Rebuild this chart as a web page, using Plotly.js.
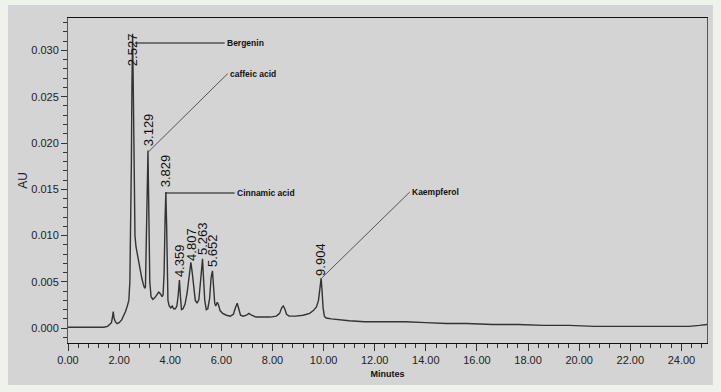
<!DOCTYPE html>
<html>
<head>
<meta charset="utf-8">
<script src="https://cdn.plot.ly/plotly-3.0.1.min.js"></script>
<style>html,body{margin:0;padding:0;background:#eef2ea;}#chart{width:721px;height:392px;}</style>
</head>
<body>
<div id="chart"></div>
<script>
// Chromatogram trace (retention time in minutes, absorbance in AU)
const timeMin = [0.00,0.50,1.00,1.40,1.55,1.65,1.70,1.74,1.77,1.80,1.85,1.92,2.00,2.10,2.18,2.25,2.32,2.38,2.42,2.45,2.48,2.50,2.527,2.55,2.57,2.59,2.62,2.66,2.72,2.80,2.88,2.95,3.00,3.03,3.06,3.09,3.129,3.15,3.17,3.20,3.25,3.32,3.40,3.48,3.55,3.62,3.68,3.72,3.76,3.80,3.829,3.86,3.88,3.91,3.96,4.02,4.08,4.13,4.20,4.26,4.31,4.359,4.40,4.44,4.50,4.58,4.66,4.73,4.807,4.86,4.92,4.98,5.05,5.12,5.19,5.23,5.263,5.30,5.35,5.41,5.47,5.54,5.60,5.652,5.69,5.74,5.78,5.84,5.89,5.95,6.05,6.20,6.35,6.47,6.55,6.62,6.68,6.75,6.85,6.98,7.08,7.18,7.35,7.60,7.90,8.15,8.28,8.36,8.42,8.48,8.55,8.65,8.90,9.20,9.45,9.60,9.72,9.80,9.86,9.904,9.94,9.98,10.03,10.10,10.30,10.60,11.00,11.60,12.40,13.20,14.00,14.80,15.60,16.60,17.60,18.60,19.60,20.60,21.60,22.60,23.60,24.30,24.70,25.00];
const absAU = [0.0001,0.0001,0.0001,0.0001,0.0002,0.0004,0.0006,0.0012,0.0018,0.0011,0.0007,0.0005,0.0006,0.0009,0.0013,0.0018,0.0024,0.0030,0.0050,0.0095,0.0180,0.0260,0.0318,0.0270,0.0190,0.0125,0.0100,0.0088,0.0078,0.0066,0.0055,0.0047,0.0043,0.0045,0.0080,0.0150,0.0192,0.0150,0.0090,0.0050,0.0034,0.0031,0.0033,0.0037,0.0039,0.0037,0.0034,0.0036,0.0060,0.0120,0.0147,0.0110,0.0060,0.0030,0.0024,0.0022,0.0024,0.0021,0.0021,0.0024,0.0035,0.0052,0.0034,0.0020,0.0021,0.0026,0.0038,0.0056,0.0071,0.0060,0.0042,0.0030,0.0027,0.0031,0.0052,0.0072,0.0075,0.0055,0.0030,0.0020,0.0021,0.0032,0.0055,0.0062,0.0045,0.0027,0.0024,0.0028,0.0025,0.0019,0.0016,0.0014,0.0013,0.0015,0.0022,0.0027,0.0021,0.0014,0.0013,0.0014,0.0016,0.0014,0.0012,0.0012,0.0012,0.0013,0.0016,0.0022,0.0024,0.0021,0.0015,0.0013,0.0013,0.0014,0.0016,0.0019,0.0023,0.0030,0.0042,0.0054,0.0040,0.0022,0.0013,0.0011,0.0010,0.0009,0.0008,0.0007,0.0007,0.0007,0.0006,0.0005,0.0005,0.0004,0.0004,0.0003,0.0003,0.0002,0.0002,0.0002,0.0002,0.0002,0.0003,0.0004];

// Peak retention-time labels
const peakTimes = [2.527,3.129,3.829,4.359,4.807,5.263,5.652,9.904];
const peakLabels = ["2.527","3.129","3.829","4.359","4.807","5.263","5.652","9.904"];
const peakLabelY = [0.0282,0.0196,0.01515,0.0054,0.0072,0.0078,0.0065,0.0055];

// Compound names with leader lines
const compounds = ["Bergenin","caffeic acid","Cinnamic acid","Kaempferol"];
const leaderX0 = [2.61,3.13,3.83,9.92];
const leaderY0 = [0.0308,0.0190,0.0146,0.0054];
const leaderX1 = [6.13,6.25,6.52,13.37];
const leaderY1 = [0.0308,0.0275,0.0146,0.0147];
const leaderColor = ["#111","#555","#111","#555"];

const shapes = [{
  type:'rect', xref:'paper', yref:'paper', layer:'below',
  x0:-0.0939, x1:1.0094, y0:-0.1292, y1:1.04,
  fillcolor:'#d4d4d4', line:{width:0}
}];
const annotations = [];
for (let i=0;i<peakTimes.length;i++){
  annotations.push({x:peakTimes[i], y:peakLabelY[i], xref:'x', yref:'y', text:peakLabels[i],
    showarrow:false, textangle:-90, xanchor:'center', yanchor:'bottom', borderpad:0,
    font:{family:'Liberation Sans, Arial, sans-serif', size:13, color:'#111'}});
}
for (let i=0;i<compounds.length;i++){
  shapes.push({type:'line', xref:'x', yref:'y', x0:leaderX0[i], y0:leaderY0[i], x1:leaderX1[i], y1:leaderY1[i],
    line:{color:leaderColor[i], width:1}});
  annotations.push({x:leaderX1[i], y:leaderY1[i], xref:'x', yref:'y', text:'<b>'+compounds[i]+'</b>',
    showarrow:false, xanchor:'left', yanchor:'middle', xshift:1, borderpad:0,
    font:{family:'Liberation Sans, Arial, sans-serif', size:8.5, color:'#111'}});
}

const trace = {x:timeMin, y:absAU, type:'scatter', mode:'lines',
  line:{color:'#333333', width:1.4}, hoverinfo:'skip'};

const layout = {
  width:721, height:392,
  margin:{l:68, r:14, t:18, b:49},
  paper_bgcolor:'#eef2ea', plot_bgcolor:'rgba(0,0,0,0)',
  showlegend:false,
  font:{family:'Liberation Sans, Arial, sans-serif', color:'#222'},
  xaxis:{range:[0,25], dtick:2, tick0:0, tickformat:'.2f', showgrid:false, zeroline:false,
    showline:true, linecolor:'#111', linewidth:1, mirror:true,
    ticks:'outside', ticklen:7, tickcolor:'#333', tickwidth:1,
    minor:{dtick:0.4, tick0:0, ticks:'outside', ticklen:4, tickcolor:'#333', showgrid:false},
    tickfont:{size:11, color:'#222'},
    title:{text:'<b>Minutes</b>', font:{size:9, color:'#111'}, standoff:5}},
  yaxis:{range:[-0.0016,0.0335], dtick:0.005, tick0:0, tickformat:'.3f', showgrid:false, zeroline:false,
    showline:true, linecolor:'#555', linewidth:1, mirror:true,
    ticks:'outside', ticklen:6, tickcolor:'#333', tickwidth:1,
    minor:{dtick:0.001, tick0:0, ticks:'outside', ticklen:4, tickcolor:'#333', showgrid:false},
    tickfont:{size:11, color:'#222'},
    title:{text:'AU', font:{size:12, color:'#222'}, standoff:1}},
  shapes:shapes,
  annotations:annotations
};
Plotly.newPlot('chart',[trace],layout,{staticPlot:true, displayModeBar:false});
</script>
</body>
</html>
